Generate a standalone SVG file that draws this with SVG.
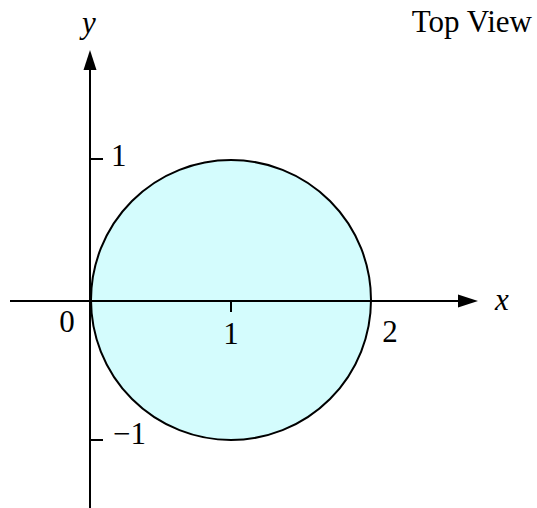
<svg xmlns="http://www.w3.org/2000/svg" width="537" height="508" viewBox="0 0 537 508">
<style>
.ax{stroke:#000;stroke-width:2;fill:none}
.t{font-family:"Liberation Serif",serif;font-size:31px;fill:#000}
.i{font-style:italic}
</style>
<rect width="537" height="508" fill="#fff"/>
<g id="disk">
<circle cx="231" cy="300" r="140" fill="#d4fcfd" stroke="#000" stroke-width="2"/>
</g>
<g id="axes">
<line class="ax" x1="10" y1="301" x2="460" y2="301"/>
<polygon points="478,301 458,294.5 458,307.5" fill="#000"/>
<line class="ax" x1="90" y1="508" x2="90" y2="68"/>
<polygon points="90,50 83.5,70 96.5,70" fill="#000"/>
<line class="ax" x1="231" y1="301" x2="231" y2="312"/>
<line class="ax" x1="90" y1="159" x2="103" y2="159"/>
<line class="ax" x1="90" y1="440" x2="103" y2="440"/>
</g>
<g id="labels">
<text class="t i" x="89" y="33" text-anchor="middle">y</text>
<text class="t i" x="502" y="310" text-anchor="middle">x</text>
<text class="t" x="532" y="32" text-anchor="end">Top View</text>
<text class="t" x="111" y="166">1</text>
<text class="t" x="113" y="444">−1</text>
<text class="t" x="67" y="332" text-anchor="middle">0</text>
<text class="t" x="231" y="344" text-anchor="middle">1</text>
<text class="t" x="390" y="342" text-anchor="middle">2</text>
</g>
</svg>
